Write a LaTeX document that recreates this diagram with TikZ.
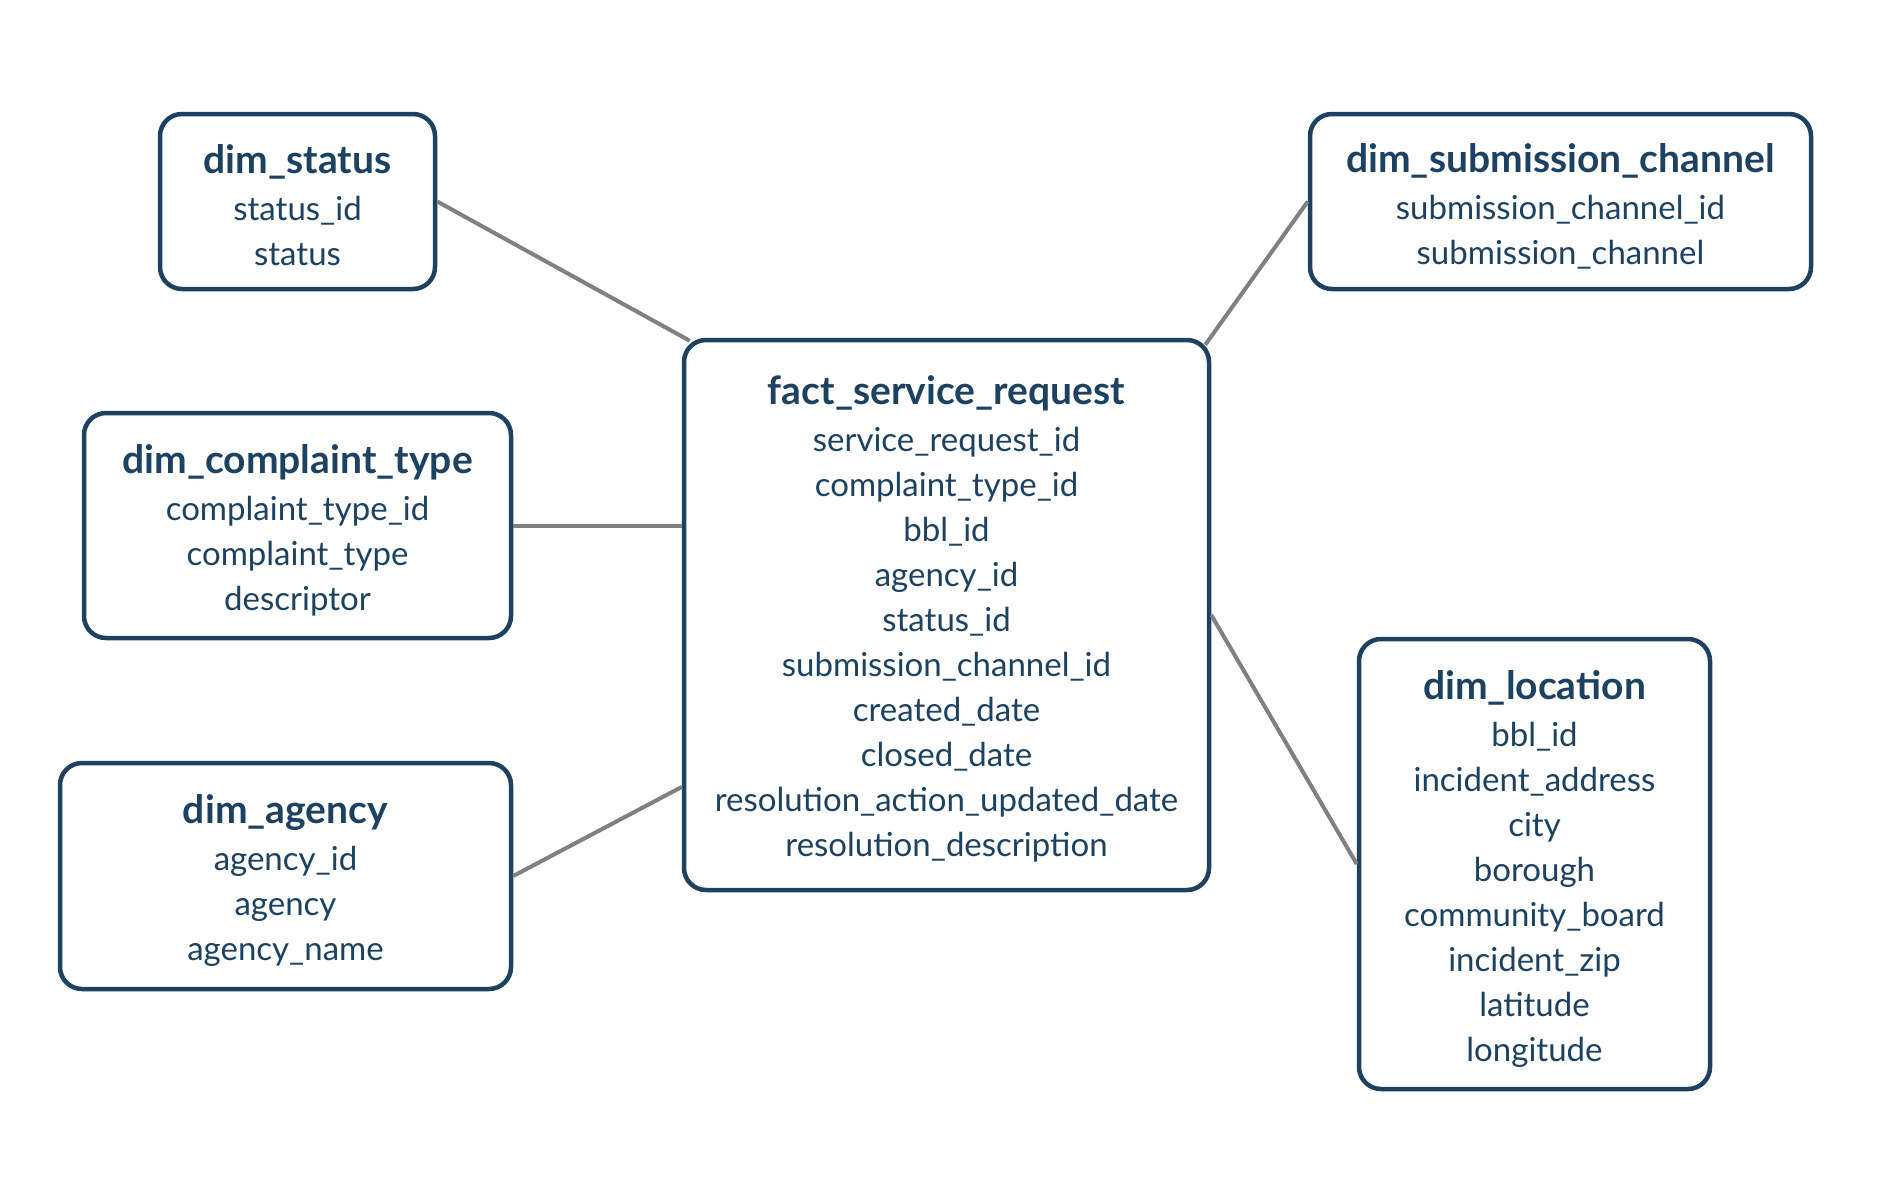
\documentclass[tikz,border=0pt]{standalone}
\usepackage{fontspec}
\usetikzlibrary{calc}
\setmainfont{Lato}
\definecolor{navy}{HTML}{1D4261}
\definecolor{conn}{HTML}{808080}
\newcommand\tbltitle[1]{{\fontsize{39}{45}\selectfont\bfseries #1}\\[2pt]}
\begin{document}
\begin{tikzpicture}[x=1pt,y=1pt,
  tbl/.style={draw=navy, line width=4.5pt, rounded corners=22pt, fill=white, inner sep=0pt},
  tbltext/.style={text=navy, align=center, font=\fontsize{33}{45}\selectfont, inner sep=0pt},
  link/.style={draw=conn, line width=4pt}]
\useasboundingbox (0,0) rectangle (1888,-1178);
\fill[white] (0,0) rectangle (1888,-1178);
\node[tbl, minimum width=275pt, minimum height=175pt] (status) at (297.5,-201.5) {};
\node[tbltext] (statustext) at ([yshift=-4pt]status.center)
  {\tbltitle{dim\_status}status\_id\\status};
\node[tbl, minimum width=501pt, minimum height=175pt] (submission) at (1560.5,-201.5) {};
\node[tbltext] (submissiontext) at ([yshift=-5pt]submission.center)
  {\tbltitle{dim\_submission\_channel}submission\_channel\_id\\submission\_channel};
\node[tbl, minimum width=525pt, minimum height=550pt] (fact) at (946.5,-615) {};
\node[tbltext] (facttext) at ([yshift=-4pt]fact.center)
  {\tbltitle{fact\_service\_request}service\_request\_id\\complaint\_type\_id\\bbl\_id\\agency\_id\\status\_id\\submission\_channel\_id\\created\_date\\closed\_date\\resolution\_action\_updated\_date\\resolution\_description};
\node[tbl, minimum width=427pt, minimum height=225pt] (complaint) at (297.5,-525.5) {};
\node[tbltext] (complainttext) at ([yshift=-5pt]complaint.center)
  {\tbltitle{dim\_complaint\_type}complaint\_type\_id\\complaint\_type\\descriptor};
\node[tbl, minimum width=451pt, minimum height=226pt] (agency) at (285.5,-876) {};
\node[tbltext] (agencytext) at ([yshift=-5pt]agency.center)
  {\tbltitle{dim\_agency}agency\_id\\agency\\agency\_name};
\node[tbl, minimum width=351pt, minimum height=450pt] (location) at (1534.5,-864) {};
\node[tbltext] (locationtext) at ([yshift=-5pt]location.center)
  {\tbltitle{dim\_location}bbl\_id\\incident\_address\\city\\borough\\community\_board\\incident\_zip\\latitude\\longitude};
\draw[link] (status.east) -- ($(fact.north west)+(8,-3)$);
\draw[link] (complaint.east) -- (complaint.east -| fact.west);
\draw[link] (agency.east) -- (fact.213.5);
\draw[link] (submission.west) -- ($(fact.north east)+(-6,-7)$);
\draw[link] (fact.east) -- (location.west);
\end{tikzpicture}
\end{document}
